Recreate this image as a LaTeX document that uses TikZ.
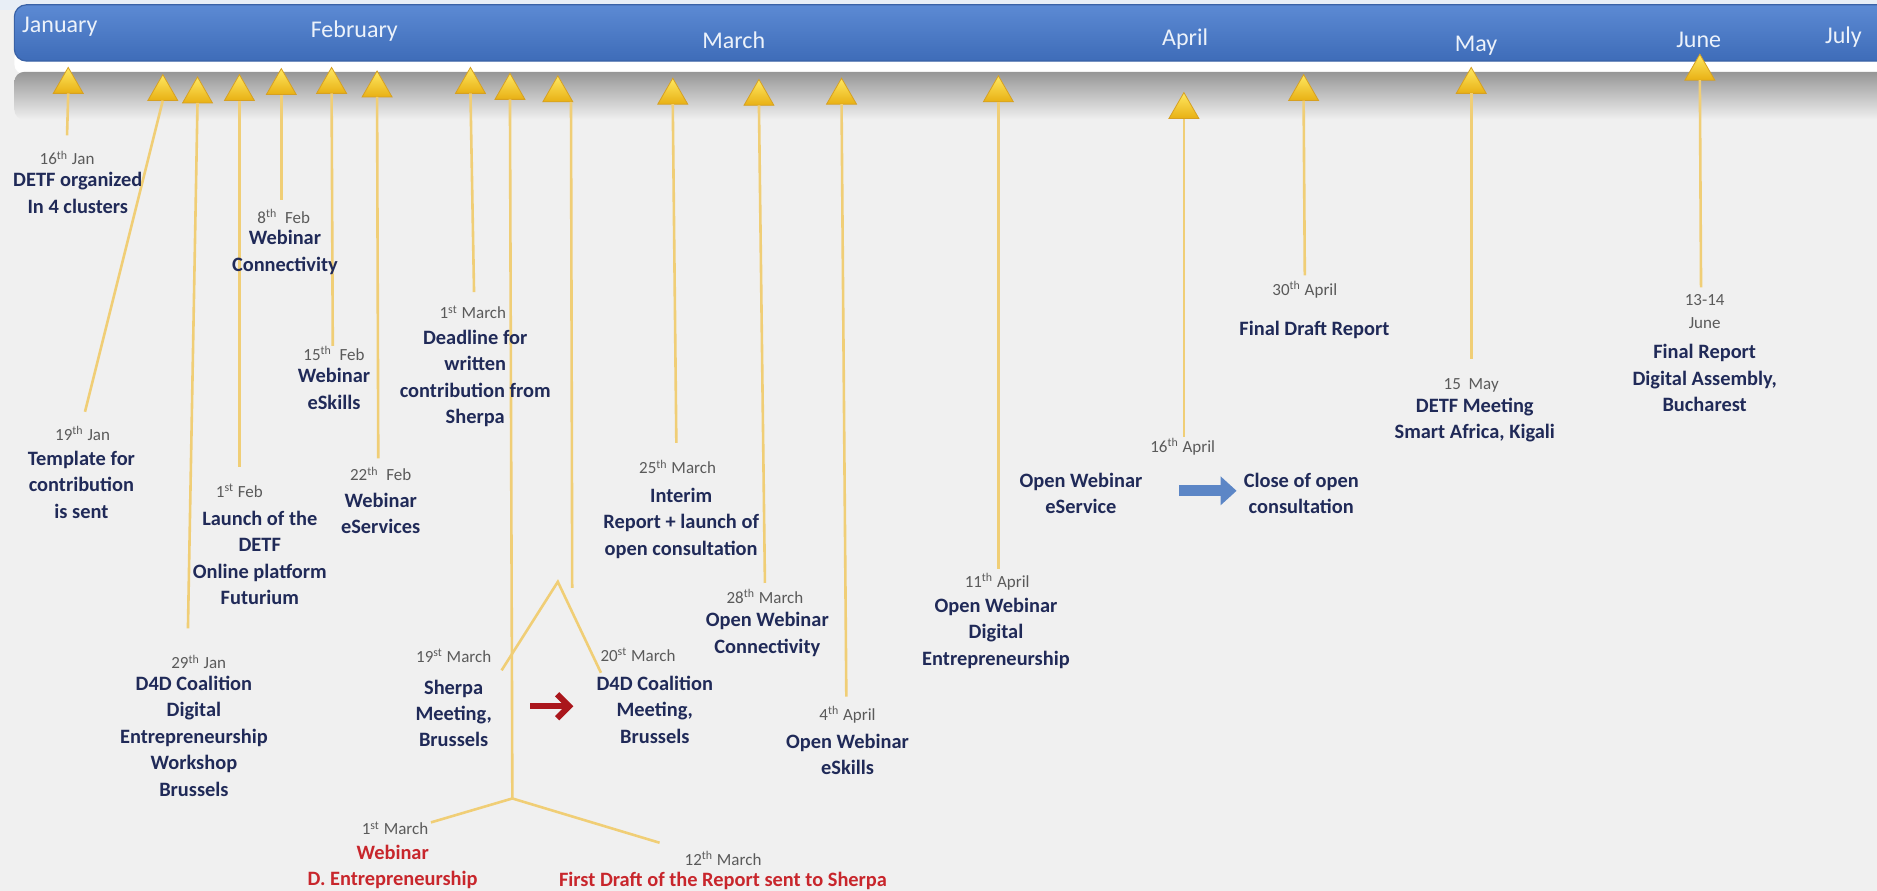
\documentclass[tikz,border=0pt]{standalone}
\usepackage{fontspec}
\setmainfont{Carlito}
\usetikzlibrary{shapes.geometric,arrows.meta,calc}
\definecolor{bg}{RGB}{240,240,240}
\definecolor{navy}{RGB}{32,42,88}
\definecolor{dategray}{RGB}{90,90,90}
\definecolor{evred}{RGB}{200,38,44}
\definecolor{evdark}{RGB}{170,22,28}
\definecolor{linegold}{RGB}{240,206,118}
\definecolor{triTop}{RGB}{255,232,96}
\definecolor{triBot}{RGB}{232,176,20}
\definecolor{triEdge}{RGB}{214,160,34}
\definecolor{bandTop}{RGB}{92,138,212}
\definecolor{bandBot}{RGB}{62,108,184}
\definecolor{bandEdge}{RGB}{58,98,166}
\definecolor{monthtxt}{RGB}{236,242,250}
\definecolor{arrowblue}{RGB}{92,134,198}
\definecolor{topstrip}{RGB}{232,238,246}
\definecolor{shadegray}{RGB}{150,150,150}
\tikzset{
 tri/.style={regular polygon, regular polygon sides=3, minimum size=17.3pt, inner sep=0pt, outer sep=0pt, top color=triTop, bottom color=triBot, draw=triEdge, line width=0.4pt, anchor=south},
 conn/.style={draw=linegold, line width=1.3pt},
 dt/.style={font=\fontsize{8.5}{10}\selectfont, text=dategray, inner sep=0pt, align=center},
 body/.style={font=\fontsize{10.2}{13.2}\selectfont\bfseries, text=navy, inner sep=0pt, align=center},
 redbody/.style={body, text=evred},
 month/.style={font=\fontsize{12}{14}\selectfont, text=monthtxt, inner sep=0pt},
}
\newcommand\sx[1]{\textsuperscript{#1}}
\begin{document}
\begin{tikzpicture}[x=0.5985pt,y=-0.5985pt]
\useasboundingbox (0,0) rectangle (1568,744);
\clip (0,0) rectangle (1568,744);
\fill[bg] (0,0) rectangle (1568,744);
\fill[topstrip] (0,0) rectangle (1568,8);
% header band
\fill[white, rounded corners=5pt] (12,40) rectangle (1600,62);
\shade[top color=shadegray, bottom color=bg, rounded corners=5pt] (12,60) rectangle (1600,100);
\shade[top color=bandTop, bottom color=bandBot, draw=bandEdge, line width=0.6pt, rounded corners=6pt] (12,4) rectangle (1600,51);
% months
\node[month] (jan) at (50,22) {January};
\node[month] (feb) at (296,26) {February};
\node[month] (mar) at (613,34) {March};
\node[month] (apr) at (990,33) {April};
\node[month] (may) at (1233,38) {May};
\node[month] (jun) at (1419,33) {June};
\node[month] (jul) at (1540,31) {July};
% line ends
\coordinate (e1) at (56,113);
\coordinate (e2) at (71,344);
\coordinate (e3) at (157,525);
\coordinate (e4) at (200,390);
\coordinate (e5) at (235,167);
\coordinate (e6) at (278,289);
\coordinate (e7) at (316,383);
\coordinate (e8) at (396,244);
\coordinate (j9) at (428,667);
\coordinate (j9l) at (360,687);
\coordinate (j9r) at (551,704);
\coordinate (e10) at (478,491);
\coordinate (v10) at (466,486);
\coordinate (v10l) at (419,560);
\coordinate (v10r) at (502,562);
\coordinate (e11) at (565,370);
\coordinate (e12) at (639,487);
\coordinate (e13) at (707,582);
\coordinate (e14) at (834,475);
\coordinate (e15) at (989,365);
\coordinate (e16) at (1090,230);
\coordinate (e17) at (1229,300);
\coordinate (e18) at (1421,240);
% triangles
\node[tri] (t1) at (57,78) {};
\node[tri] (t2) at (136,84) {};
\node[tri] (t3) at (165,86) {};
\node[tri] (t4) at (200,84) {};
\node[tri] (t5) at (235,79) {};
\node[tri] (t6) at (277,78) {};
\node[tri] (t7) at (315,81) {};
\node[tri] (t8) at (393,78) {};
\node[tri] (t9) at (426,83) {};
\node[tri] (t10) at (466,85) {};
\node[tri] (t11) at (562,87) {};
\node[tri] (t12) at (634,88) {};
\node[tri] (t13) at (703,87) {};
\node[tri] (t14) at (834,85) {};
\node[tri] (t15) at (989,99) {};
\node[tri] (t16) at (1089,84) {};
\node[tri] (t17) at (1229,78) {};
\node[tri] (t18) at (1420,67) {};
% connectors
\draw[conn] (t1.south) -- (e1);
\draw[conn] (t2.south) -- (e2);
\draw[conn] (t3.south) -- (e3);
\draw[conn] (t4.south) -- (e4);
\draw[conn] (t5.south) -- (e5);
\draw[conn] (t6.south) -- (e6);
\draw[conn] (t7.south) -- (e7);
\draw[conn] (t8.south) -- (e8);
\draw[conn] (t9.south) -- (j9) -- (j9l);
\draw[conn] (j9) -- (j9r);
\draw[conn] ($(t10.south)+(11,0)$) -- (e10);
\draw[conn] (v10l) -- (v10) -- (v10r);
\draw[conn] (t11.south) -- (e11);
\draw[conn] (t12.south) -- (e12);
\draw[conn] (t13.south) -- (e13);
\draw[conn] (t14.south) -- (e14);
\draw[conn] (t15.south) -- (e15);
\draw[conn] (t16.south) -- (e16);
\draw[conn] (t17.south) -- (e17);
\draw[conn] (t18.south) -- (e18);
% events
\node[dt] (d1) at (56,132) {16\sx{th} Jan};
\node[body] (b1) at (65,161) {DETF organized\\In 4 clusters};
\node[dt] (d2) at (237,181) {8\sx{th}\ \ Feb};
\node[body] (b2) at (238,211) {Webinar\\Connectivity};
\node[dt] (d3) at (395,261) {1\sx{st} March};
\node[body] (b3) at (397,316) {Deadline for\\written\\contribution from\\Sherpa};
\node[dt] (d4) at (279,295) {15\sx{th}\ \ Feb};
\node[body] (b4) at (279,325) {Webinar\\eSkills};
\node[dt] (d5) at (69,362) {19\sx{th} Jan};
\node[body] (b5) at (68,405) {Template for\\contribution\\is sent};
\node[dt] (d6) at (200,410) {1\sx{st} Feb};
\node[body] (b6) at (217,466) {Launch of the\\DETF\\Online platform\\Futurium};
\node[dt] (d7) at (318,396) {22\sx{th}\ \ Feb};
\node[body] (b7) at (318,429) {Webinar\\eServices};
\node[dt] (d8) at (566,390) {25\sx{th} March};
\node[body] (b8) at (569,437) {Interim\\Report + launch of\\open consultation};
\node[dt] (d9) at (639,498) {28\sx{th} March};
\node[body] (b9) at (641,530) {Open Webinar\\Connectivity};
\node[dt] (d10) at (166,553) {29\sx{th} Jan};
\node[body] (b10) at (162,615) {D4D Coalition\\Digital\\Entrepreneurship\\Workshop\\Brussels};
\node[dt] (d11) at (379,548) {19\sx{st} March};
\node[body] (b11) at (379,596) {Sherpa\\Meeting,\\Brussels};
\node[dt] (d12) at (533,547) {20\sx{st} March};
\node[body] (b12) at (547,593) {D4D Coalition\\Meeting,\\Brussels};
\node[dt] (d13) at (708,597) {4\sx{th} April};
\node[body] (b13) at (708,630) {Open Webinar\\eSkills};
\node[dt] (d14) at (833,486) {11\sx{th} April};
\node[body] (b14) at (832,529) {Open Webinar\\Digital\\Entrepreneurship};
\node[dt] (d15) at (988,373) {16\sx{th} April};
\node[body] (b15a) at (903,412) {Open Webinar\\eService};
\node[body] (b15b) at (1087,412) {Close of open\\consultation};
\node[dt] (d16) at (1090,242) {30\sx{th} April};
\node[body] (b16) at (1098,276) {Final Draft Report};
\node[dt] (d17) at (1229,322) {15\ \ May};
\node[body] (b17) at (1232,351) {DETF Meeting\\Smart Africa, Kigali};
\node[dt] (d18) at (1424,260) {13-14\\[1.4pt]June};
\node[body] (b18) at (1424,316) {Final Report\\Digital Assembly,\\Bucharest};
\node[dt] (d19) at (330,692) {1\sx{st} March};
\node[redbody] (b19) at (328,724) {Webinar\\D. Entrepreneurship};
\node[dt] (d20) at (604,717) {12\sx{th} March};
\node[redbody] (b20) at (604,736) {First Draft of the Report sent to Sherpa};
% arrows between events
\coordinate (ra0) at (443,590);
\coordinate (ra1) at (479,590);
\draw[line width=3pt, evdark, -{Straight Barb[length=6pt,width=12pt]}] (ra0) -- (ra1);
\coordinate (ba0) at (985,410);
\coordinate (ba1) at (1033,410);
\draw[line width=5.5pt, arrowblue, -{Triangle[length=8pt,width=14pt]}] (ba0) -- (ba1);
\end{tikzpicture}
\end{document}
